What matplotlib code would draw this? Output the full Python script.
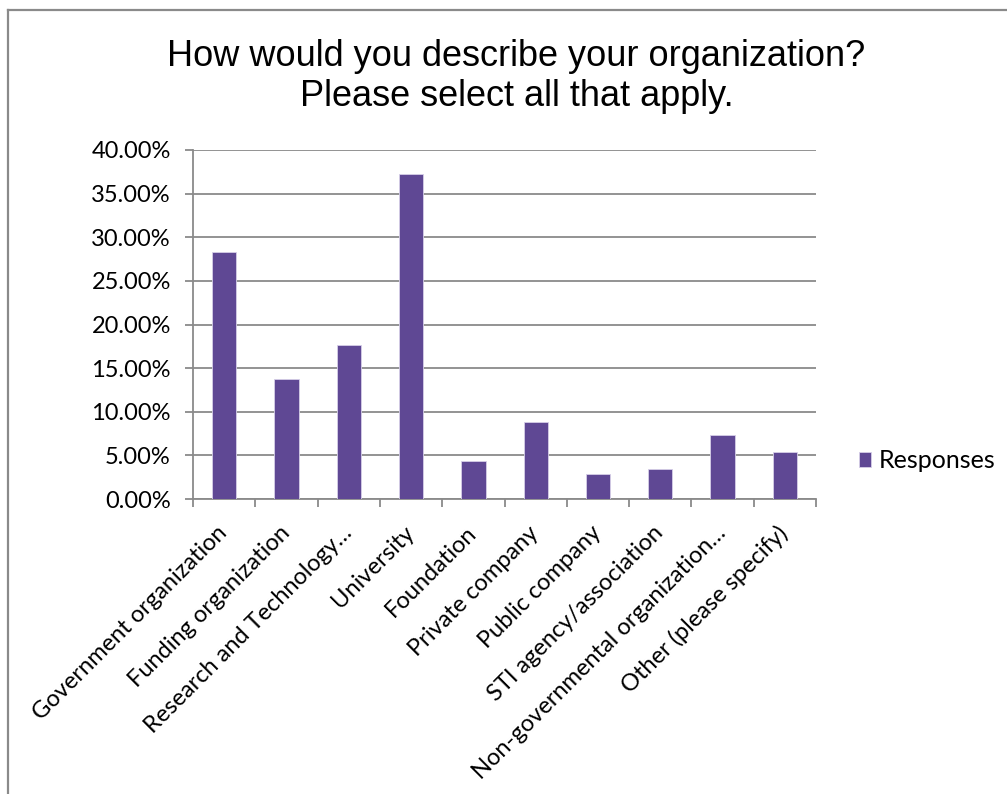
import matplotlib.pyplot as plt
import numpy as np
from matplotlib.lines import Line2D
from matplotlib.ticker import FixedLocator, FuncFormatter

categories = ["Government organization", "Funding organization", "Research and Technology\u2026",
              "University", "Foundation", "Private company", "Public company",
              "STI agency/association", "Non-governmental organization\u2026", "Other (please specify)"]
responses = [28.3, 13.7, 17.6, 37.2, 4.4, 8.8, 2.9, 3.4, 7.3, 5.35]
y_ticks = [0, 5, 10, 15, 20, 25, 30, 35, 40]

bar_color = "#5f4894"
grid_color = "#8a8a8a"
label_font = "Lato"
label_size = 17

fig = plt.figure(figsize=(10.07, 7.94), dpi=100)
ax = fig.add_axes([0.1917, 0.3715, 0.6186, 0.4396])

x = np.arange(len(categories))
ax.bar(x, responses, width=0.39, color=bar_color, edgecolor="#d6cfe8", linewidth=0.6,
       label="Responses", zorder=3)

ax.set_xlim(-0.5, len(categories) - 0.5)
ax.set_ylim(0, 40)
ax.set_yticks(y_ticks)
ax.yaxis.set_major_formatter(FuncFormatter(lambda v, p: f"{v:.2f}%"))
ax.grid(axis="y", color=grid_color, linewidth=1.3, zorder=0)

for s in ["top", "right"]:
    ax.spines[s].set_visible(False)
ax.spines["left"].set_color(grid_color)
ax.spines["left"].set_linewidth(1.3)
ax.spines["bottom"].set_color(grid_color)
ax.spines["bottom"].set_linewidth(1.3)

ax.tick_params(axis="y", length=6, width=1.3, color=grid_color, labelsize=label_size, pad=10)
ax.set_xticks(x)
ax.set_xticklabels(categories, rotation=45, ha="right", va="center", rotation_mode="anchor",
                   fontsize=label_size)
ax.tick_params(axis="x", which="major", length=0, pad=22)
ax.xaxis.set_minor_locator(FixedLocator(np.arange(len(categories) + 1) - 0.5))
ax.tick_params(axis="x", which="minor", length=6, width=1.3, color=grid_color)
for lbl in ax.get_xticklabels() + ax.get_yticklabels():
    lbl.set_fontfamily(label_font)

fig.legend(loc="center left", bbox_to_anchor=(0.853, 0.4194), frameon=False,
           prop={"family": label_font, "size": 18}, handlelength=0.5, handleheight=0.5,
           handletextpad=0.3, borderpad=0, borderaxespad=0)

fig.text(0.513, 0.9036, "How would you describe your organization?\nPlease select all that apply.",
         ha="center", va="center", fontsize=26, family="Liberation Sans", linespacing=1.2)

# chart frame (only left and top edges are in view)
fig.add_artist(Line2D([7.5 / 1007, 7.5 / 1007], [0, 1 - 10 / 794], transform=fig.transFigure,
                      color=grid_color, linewidth=1.6))
fig.add_artist(Line2D([7.5 / 1007, 1], [1 - 10 / 794, 1 - 10 / 794], transform=fig.transFigure,
                      color=grid_color, linewidth=1.6))

fig.savefig("out.png", dpi=100)
